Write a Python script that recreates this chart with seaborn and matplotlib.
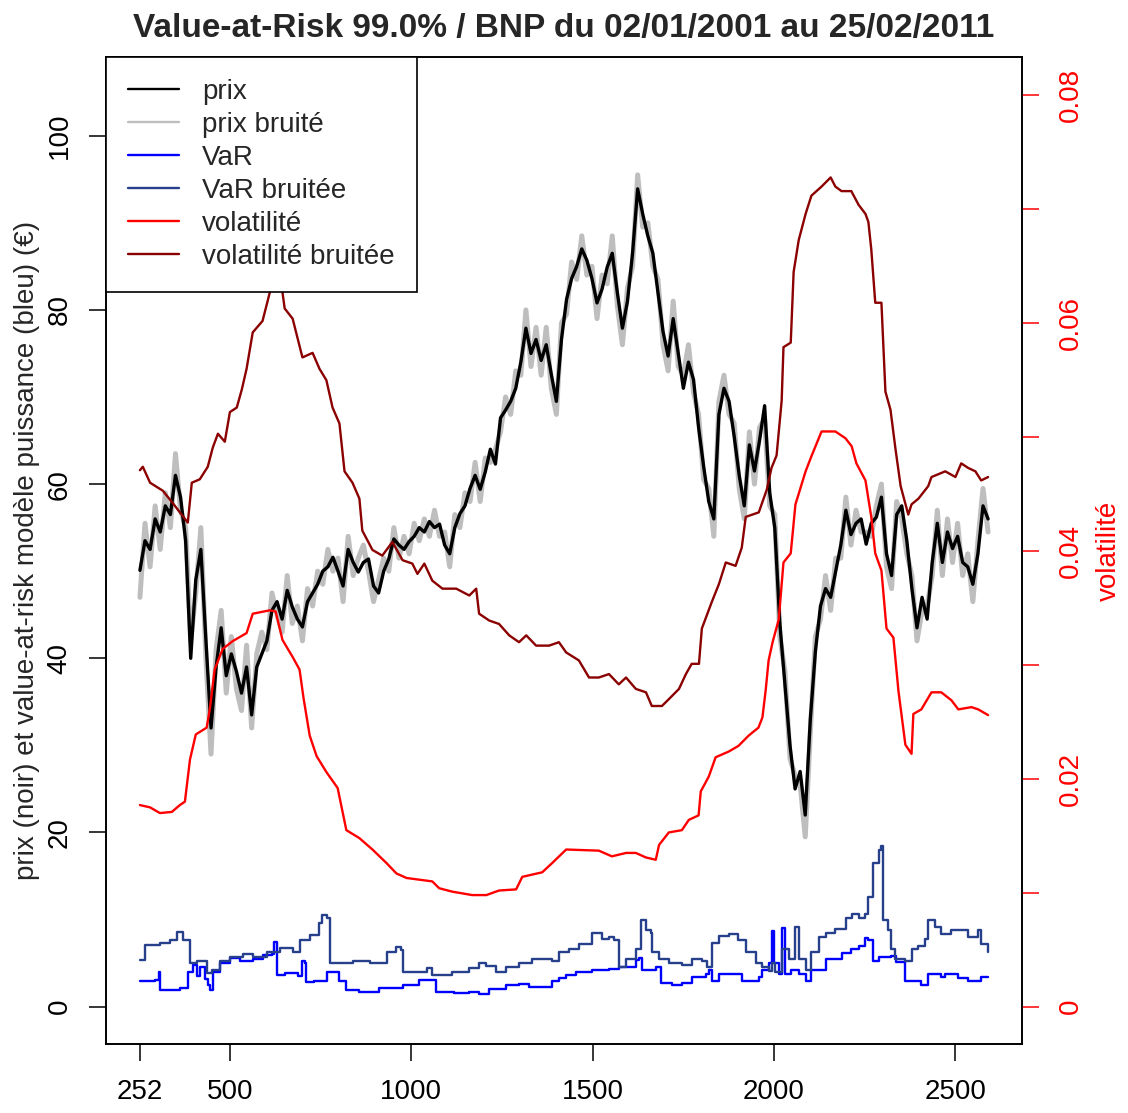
import numpy as np
import pandas as pd
import matplotlib
matplotlib.use("Agg")
import matplotlib.pyplot as plt
import seaborn as sns

# ---------------- data ----------------
jours = np.arange(252, 2591, 14)  # day index of the sampled prices

prix = [50.1, 53.5, 52.5, 56, 54.5, 57.5, 56.5, 61, 58.5, 53.5,
        40, 49, 52.5, 42, 32, 39, 43.5, 38, 40.5, 38.5,
        36, 39, 33.5, 39, 40.5, 42, 45.5, 46.5, 44.5, 47.8,
        45.9, 44.5, 43.6, 46.5, 47.5, 48.5, 50, 50.5, 51.6, 50,
        48.3, 52.5, 51, 49.9, 51, 51.4, 48.3, 47.5, 50, 51.4,
        53.7, 53, 52.5, 53.4, 54, 55, 54.5, 55.7, 55, 55.4,
        53, 52, 55, 56.6, 57.5, 59.5, 61, 59.4, 61.4, 64,
        62.3, 67.6, 68.5, 69.5, 71, 74, 77.9, 75, 76.6, 74.2,
        76, 72.6, 69.5, 76.6, 81.2, 83.6, 85, 87, 85.7, 83.6,
        80.8, 82.4, 84.9, 86.5, 82, 77.9, 81, 86.5, 93.9, 91,
        88.5, 86.5, 82, 77.5, 74.7, 79, 75, 71, 74, 72,
        66.5, 62, 58, 56, 68, 71, 69.5, 65.5, 61, 57.5,
        64.5, 61.5, 65, 69, 59, 55, 44, 37, 30, 25,
        27, 22, 33, 40.8, 46, 48, 47, 50, 53, 57,
        54.2, 55.5, 56, 53.1, 55.5, 56.2, 58.5, 52, 49.5, 56.5,
        57.5, 53.5, 48, 43.5, 47, 44.5, 51, 55.5, 51, 54.5,
        52.6, 54, 51, 50.5, 48.5, 52, 57.5, 56]

prix_bruite = [47, 55.5, 50.5, 57.5, 52.5, 59, 55, 63.5, 57, 55,
               42, 47.5, 55, 40, 29, 41, 45.5, 36, 42.5, 36.5,
               34, 41.5, 32, 40.5, 43, 41, 47.5, 45, 43, 49.5,
               44, 46, 42, 48, 46, 50, 48.5, 52.5, 50, 51.5,
               46.5, 54, 49.5, 51.5, 53, 50, 46.5, 49, 51.5, 50,
               55, 51.5, 54, 52, 55.5, 53.5, 56, 54, 57, 54,
               54.5, 50.5, 56.5, 55, 59, 58, 62.5, 58, 63, 62.5,
               64, 66, 70, 68, 73, 72.5, 80, 73.5, 78, 72.5,
               78, 71, 68, 78.5, 79.5, 85.5, 83.5, 88.5, 84, 85,
               79, 84, 83, 88.5, 80.5, 76, 82.5, 85, 95.5, 89.5,
               90, 85, 83.5, 76, 73, 81, 73.5, 72.5, 76, 70.5,
               68, 60.5, 59.5, 54, 69.5, 72.5, 68, 67, 59.5, 56,
               66, 60, 66.5, 67.5, 57.5, 56.5, 42.5, 38.5, 28.5, 26.5,
               25.5, 19.5, 31.5, 42.5, 44.5, 49.5, 45.5, 51.5, 51.5, 58.5,
               53, 57, 54.5, 54.5, 54, 57.5, 60, 50.5, 48, 58,
               56, 52, 49.5, 42, 45.5, 46, 49.5, 57, 49.5, 56,
               51, 55.5, 49.5, 52, 46.5, 53.5, 59.5, 54.5]

var_x = [252, 293, 304, 307, 340, 362, 384, 398, 409, 417, 431, 439, 445, 453, 472,
         500, 527, 563, 590, 615, 621, 629, 651, 673, 687, 698, 706, 711, 733, 766,
         769, 794, 802, 821, 857, 893, 912, 948, 976, 1003, 1022, 1064, 1069, 1119,
         1160, 1187, 1215, 1262, 1297, 1325, 1374, 1388, 1407, 1427, 1454, 1498, 1545,
         1572, 1619, 1628, 1636, 1674, 1688, 1718, 1746, 1773, 1812, 1820, 1828, 1848,
         1883, 1911, 1958, 1966, 1985, 1993, 1999, 2013, 2021, 2029, 2048, 2068, 2087,
         2103, 2142, 2186, 2213, 2233, 2252, 2260, 2274, 2288, 2323, 2335, 2362, 2406,
         2425, 2461, 2472, 2508, 2535, 2571, 2590]
var = [2.95, 3.1, 4.0, 1.9, 1.9, 2.2, 4.0, 4.8, 3.5, 4.5, 3.2, 2.5, 1.9, 4.0, 5.0,
       5.6, 5.2, 5.5, 5.9, 6.0, 7.4, 3.6, 3.9, 3.9, 3.5, 5.2, 5.0, 2.8, 3.0, 3.0,
       4.0, 4.0, 3.0, 1.9, 1.7, 1.7, 2.1, 2.1, 2.5, 2.5, 3.1, 3.1, 1.7, 1.6,
       1.7, 1.5, 2.0, 2.5, 2.6, 2.3, 2.3, 3.0, 3.3, 3.6, 4.0, 4.2, 4.3,
       4.6, 5.4, 5.6, 4.2, 4.6, 2.7, 2.5, 2.7, 3.4, 3.8, 4.2, 3.0, 3.8,
       3.8, 2.9, 3.4, 4.2, 5.0, 8.7, 5.0, 3.8, 9.0, 3.8, 4.2, 3.8, 3.0,
       4.2, 5.5, 6.2, 6.6, 7.0, 7.9, 7.6, 5.3, 5.7, 5.8, 5.1, 2.9, 2.5,
       3.8, 3.4, 3.8, 3.3, 2.9, 3.4, 3.4]

varb_x = [252, 266, 307, 335, 354, 370, 390, 409, 436, 450, 472, 500, 535, 563, 601,
          637, 673, 692, 720, 747, 755, 769, 775, 794, 838, 885, 932, 959, 973, 976,
          1003, 1042, 1058, 1113, 1160, 1187, 1207, 1234, 1262, 1297, 1333, 1388, 1407,
          1435, 1462, 1498, 1526, 1545, 1559, 1572, 1592, 1619, 1633, 1647, 1660, 1663,
          1683, 1710, 1746, 1773, 1801, 1814, 1828, 1848, 1875, 1902, 1922, 1949, 1966,
          1985, 1993, 2004, 2021, 2040, 2059, 2068, 2087, 2103, 2123, 2142, 2169, 2197,
          2214, 2233, 2252, 2260, 2274, 2288, 2296, 2301, 2315, 2323, 2334, 2362, 2379,
          2398, 2417, 2425, 2444, 2461, 2489, 2508, 2535, 2563, 2571, 2590]
var_bruitee = [5.4, 7.1, 7.3, 7.6, 8.6, 7.6, 5.0, 5.2, 3.9, 4.2, 5.2, 5.7, 6.1, 5.7, 6.3,
               6.7, 6.3, 7.6, 8.2, 9.6, 10.5, 10.2, 5.0, 5.0, 5.2, 5.0, 6.3, 6.9, 6.5, 4.0,
               4.0, 4.4, 3.6, 4.0, 4.4, 5.0, 4.7, 4.0, 4.5, 5.0, 5.5, 5.2, 6.3,
               6.6, 7.2, 8.5, 7.8, 8.0, 7.6, 4.5, 5.5, 6.6, 10.0, 8.8, 8.5, 6.3,
               5.5, 5.0, 4.8, 5.5, 5.2, 4.5, 7.3, 8.1, 8.3, 7.6, 6.3, 5.0, 4.6,
               4.1, 5.0, 4.0, 6.6, 5.5, 9.2, 5.5, 4.2, 6.3, 8.0, 8.5, 8.9, 10.2,
               10.6, 10.2, 10.6, 12.6, 16.5, 18.0, 18.4, 10.0, 8.8, 6.6, 5.5, 5.2, 6.6,
               7.0, 7.8, 10.0, 9.2, 8.3, 8.8, 8.8, 8.0, 8.8, 7.2, 6.3]

vol_x = [252, 280, 307, 340, 362, 376, 390, 406, 436, 445, 458, 480, 508, 546, 563,
         610, 626, 645, 673, 692, 703, 720, 739, 766, 797, 810, 821, 857, 893, 932,
         959, 987, 1058, 1077, 1113, 1168, 1207, 1242, 1289, 1306, 1361, 1388, 1427,
         1517, 1553, 1592, 1619, 1647, 1674, 1683, 1710, 1746, 1765, 1792, 1798, 1820,
         1839, 1875, 1902, 1930, 1957, 1968, 1977, 1985, 1996, 2013, 2026, 2046, 2059,
         2087, 2104, 2131, 2169, 2197, 2214, 2227, 2252, 2268, 2279, 2296, 2310, 2329,
         2343, 2362, 2379, 2384, 2406, 2434, 2461, 2489, 2508, 2544, 2563, 2590]
volatilite = [0.0177, 0.0175, 0.0170, 0.0171, 0.0177, 0.0180, 0.0217, 0.0239, 0.0245,
              0.0262, 0.0296, 0.0314, 0.0321, 0.0328, 0.0345, 0.0348, 0.0347, 0.0322,
              0.0307, 0.0296, 0.0271, 0.0238, 0.0220, 0.0206, 0.0192, 0.0172, 0.0155,
              0.0148, 0.0138, 0.0126, 0.0117, 0.0113, 0.0110, 0.0104, 0.0101, 0.0098,
              0.0098, 0.0102, 0.0103, 0.0114, 0.0118, 0.0126, 0.0138, 0.0137, 0.0132,
              0.0135, 0.0135, 0.0131, 0.0129, 0.0142, 0.0153, 0.0155, 0.0164, 0.0168,
              0.0189, 0.0202, 0.0219, 0.0224, 0.0229, 0.0238, 0.0245, 0.0254, 0.0278,
              0.0304, 0.0320, 0.0340, 0.0390, 0.0398, 0.0441, 0.0470, 0.0484, 0.0505,
              0.0505, 0.0499, 0.0492, 0.0477, 0.0462, 0.0430, 0.0398, 0.0383, 0.0332,
              0.0324, 0.0277, 0.0230, 0.0222, 0.0257, 0.0261, 0.0276, 0.0276, 0.0269,
              0.0261, 0.0263, 0.0261, 0.0256]

volb_x = [252, 260, 280, 315, 343, 362, 384, 395, 417, 439, 453, 467, 486, 500, 519,
          533, 546, 563, 590, 610, 629, 645, 651, 673, 700, 728, 747, 766, 783, 802,
          816, 838, 857, 865, 893, 920, 948, 976, 1003, 1017, 1036, 1058, 1086, 1124,
          1160, 1179, 1187, 1215, 1242, 1270, 1297, 1317, 1344, 1380, 1407, 1427, 1462,
          1490, 1517, 1545, 1572, 1592, 1619, 1647, 1663, 1691, 1710, 1738, 1757, 1773,
          1793, 1801, 1828, 1848, 1867, 1894, 1911, 1922, 1958, 1980, 1993, 2007, 2021,
          2026, 2046, 2054, 2068, 2087, 2103, 2131, 2156, 2169, 2186, 2213, 2233, 2252,
          2260, 2268, 2279, 2296, 2307, 2321, 2335, 2349, 2370, 2379, 2398, 2425, 2434,
          2472, 2500, 2516, 2535, 2555, 2571, 2590]
volatilite_bruitee = [0.0471, 0.0474, 0.0460, 0.0453, 0.0442, 0.0434, 0.0425, 0.0460,
                      0.0463, 0.0474, 0.0491, 0.0503, 0.0496, 0.0522, 0.0526, 0.0542,
                      0.0560, 0.0592, 0.0602, 0.0627, 0.0642, 0.0627, 0.0613, 0.0604,
                      0.0570, 0.0574, 0.0560, 0.0550, 0.0526, 0.0512, 0.0470, 0.0460,
                      0.0446, 0.0418, 0.0401, 0.0396, 0.0408, 0.0392, 0.0389, 0.0380,
                      0.0389, 0.0374, 0.0367, 0.0367, 0.0361, 0.0367, 0.0345, 0.0339,
                      0.0336, 0.0326, 0.0320, 0.0326, 0.0317, 0.0317, 0.0320, 0.0311,
                      0.0304, 0.0289, 0.0289, 0.0292, 0.0283, 0.0289, 0.0279, 0.0276,
                      0.0264, 0.0264, 0.0270, 0.0279, 0.0292, 0.0301, 0.0301, 0.0332,
                      0.0355, 0.0371, 0.0390, 0.0387, 0.0403, 0.0430, 0.0434, 0.0454,
                      0.0473, 0.0484, 0.0532, 0.0579, 0.0583, 0.0645, 0.0673, 0.0696,
                      0.0712, 0.0720, 0.0728, 0.0720, 0.0716, 0.0716, 0.0704, 0.0696,
                      0.0689, 0.0665, 0.0618, 0.0618, 0.0540, 0.0524, 0.0489, 0.0457,
                      0.0432, 0.0441, 0.0446, 0.0457, 0.0465, 0.0470, 0.0465, 0.0477,
                      0.0473, 0.0470, 0.0462, 0.0465]

xticks = [252, 500, 1000, 1500, 2000, 2500]
yticks_left = [0, 20, 40, 60, 80, 100]
yticks_right = [0, 0.01, 0.02, 0.03, 0.04, 0.05, 0.06, 0.07, 0.08]
yticklabels_right = ["0", "", "0.02", "", "0.04", "", "0.06", "", "0.08"]
legend_labels = ["prix", "prix bruité", "VaR", "VaR bruitée", "volatilité", "volatilité bruitée"]
title = "Value-at-Risk 99.0% / BNP du 02/01/2001 au 25/02/2011"

# ---------------- style ----------------
sns.set_style("white")
plt.rcParams["font.family"] = ["Liberation Sans", "DejaVu Sans"]

FS = 20
LW = 1.7
fig = plt.figure(figsize=(11.28, 11.13), dpi=100)
ax = fig.add_axes([106 / 1128, 1 - 1044.3 / 1113, 916 / 1128, 987.6 / 1113])
ax2 = ax.twinx()

df_p = pd.DataFrame({"jour": jours, "prix": prix, "prix_bruite": prix_bruite})
df_v = pd.DataFrame({"jour": var_x, "var": var})
df_vb = pd.DataFrame({"jour": varb_x, "var_b": var_bruitee})
df_s = pd.DataFrame({"jour": vol_x, "vol": volatilite})
df_sb = pd.DataFrame({"jour": volb_x, "vol_b": volatilite_bruitee})

sns.lineplot(data=df_p, x="jour", y="prix_bruite", ax=ax, color="#BEBEBE", lw=3.6,
             estimator=None, sort=False, label=legend_labels[1])
sns.lineplot(data=df_p, x="jour", y="prix", ax=ax, color="black", lw=2.4,
             estimator=None, sort=False, label=legend_labels[0])
sns.lineplot(data=df_v, x="jour", y="var", ax=ax, color="#0000FF", lw=LW,
             estimator=None, sort=False, drawstyle="steps-post", label=legend_labels[2])
sns.lineplot(data=df_vb, x="jour", y="var_b", ax=ax, color="#27408B", lw=LW,
             estimator=None, sort=False, drawstyle="steps-post", label=legend_labels[3])
sns.lineplot(data=df_s, x="jour", y="vol", ax=ax2, color="#FF0000", lw=LW,
             estimator=None, sort=False, label=legend_labels[4])
sns.lineplot(data=df_sb, x="jour", y="vol_b", ax=ax2, color="#8B0000", lw=LW,
             estimator=None, sort=False, label=legend_labels[5])

for a in (ax, ax2):
    if a.get_legend() is not None:
        a.get_legend().remove()

ax.set_xlim(158.5, 2683.5)
ax.set_ylim(-4.32, 109.07)
ax2.set_ylim(-0.0033, 0.0834)

# spines
for a in (ax, ax2):
    for s in a.spines.values():
        s.set_color("black")
        s.set_linewidth(1.2)

ax.set_xticks(xticks)
ax.set_xticklabels([str(t) for t in xticks])
ax.set_yticks(yticks_left)
ax.set_yticklabels([str(t) for t in yticks_left], rotation=90, va="center")
ax.tick_params(axis="x", bottom=True, direction="out", length=12, width=1.1,
               labelsize=FS, pad=13, colors="black")
ax.tick_params(axis="y", left=True, direction="out", length=12, width=1.1,
               labelsize=FS, pad=12, colors="black")

ax2.set_yticks(yticks_right)
ax2.set_yticklabels(yticklabels_right, rotation=90, va="center")
ax2.tick_params(axis="y", right=True, direction="out", length=12, width=1.1,
                labelsize=FS, pad=14, color="#FF0000", labelcolor="#FF0000")

ax.set_xlabel("")
ax.set_ylabel("prix (noir) et value-at-risk modèle puissance (bleu) (€)", fontsize=FS,
              va="center")
ax.yaxis.set_label_coords((27 - 106) / 916, 0.5)
ax2.set_ylabel("volatilité", fontsize=FS, color="#FF0000", va="center", rotation=90)
ax2.yaxis.set_label_coords((1109 - 106) / 916, 0.5)

ax.set_title(title, fontsize=24, fontweight="bold", pad=14)

handles = ax.get_lines()[:4]
handles = [handles[1], handles[0], handles[2], handles[3]] + list(ax2.get_lines()[:2])
leg = ax2.legend(handles, legend_labels, loc="upper left", bbox_to_anchor=(0, 1),
                 borderaxespad=0, fancybox=False, edgecolor="black", framealpha=1,
                 fontsize=FS, handlelength=1.83, handletextpad=0.83,
                 borderpad=0.8, labelspacing=0.25)
leg.get_frame().set_linewidth(1.2)
leg.set_zorder(10)
for l in leg.get_lines():
    l.set_linewidth(LW)

fig.savefig("out.png", dpi=100)
